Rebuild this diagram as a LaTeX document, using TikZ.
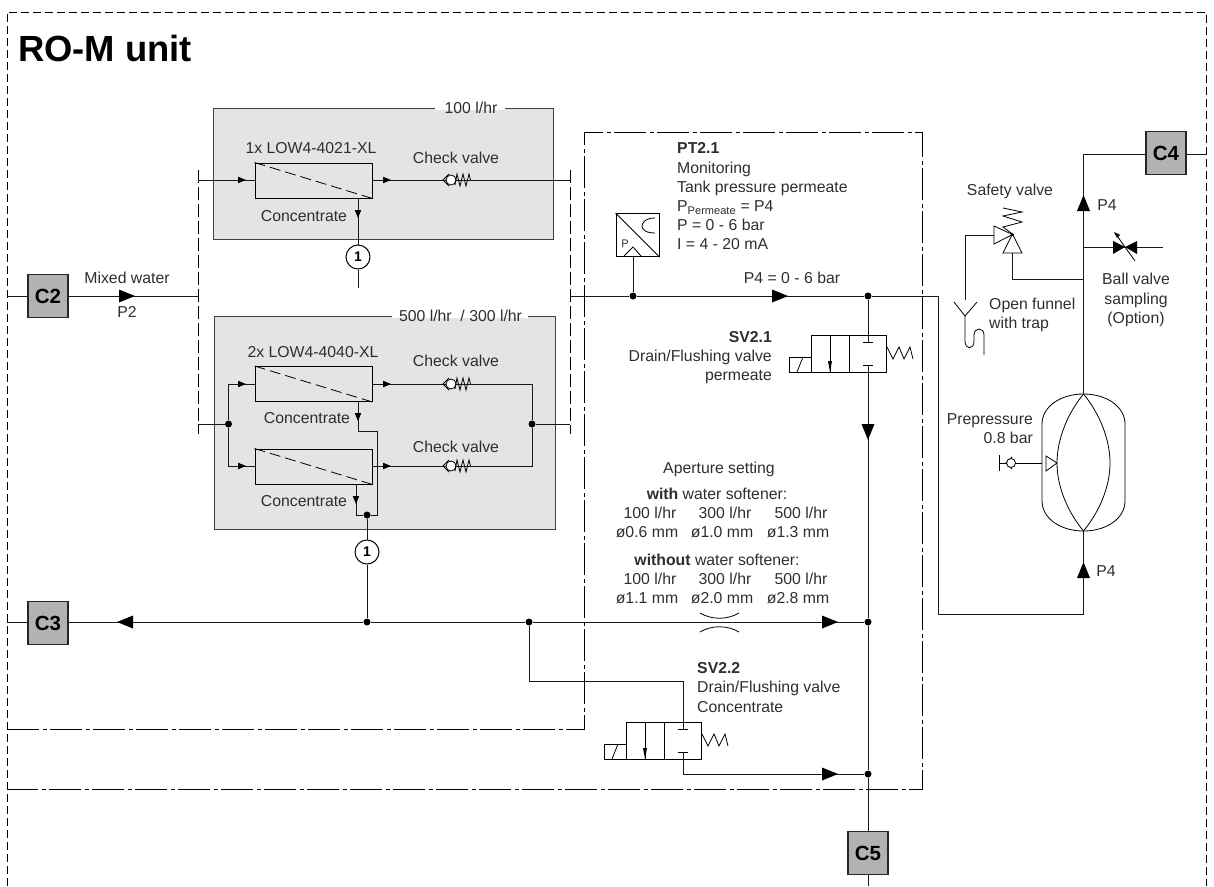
\documentclass[tikz,border=0pt]{standalone}
\usepackage{fontspec}
\setmainfont{Liberation Sans}
\usepackage{xcolor}
\usepackage{tikz}
\definecolor{boxgrey}{HTML}{E4E4E4}
\definecolor{portgrey}{HTML}{B2B2B2}
\definecolor{inkgrey}{HTML}{2E2E2E}
\tikzset{
  pipe/.style={line width=1pt,black!90},
  thinpipe/.style={line width=.8pt,black},
  unitline/.style={line width=1pt,black,dash pattern=on 8pt off 4pt},
  frameline/.style={line width=1pt,black,dash pattern=on 32pt off 3.5pt on 4pt off 3.5pt},
  cutline/.style={line width=.8pt,black,dash pattern=on 13pt off 4pt},
  moddash/.style={line width=.8pt,black,dash pattern=on 11pt off 5pt},
  txt/.style={font=\fontsize{15.8}{19.2}\selectfont,text=inkgrey,inner sep=0pt},
  titletxt/.style={font=\fontsize{36.4}{40}\selectfont\bfseries,text=black,inner sep=0pt},
  port/.style={draw=black!85,line width=1.5pt,fill=portgrey,minimum width=40pt,minimum height=43pt,inner sep=0pt,font=\fontsize{20.5}{22}\selectfont\bfseries},
  joint/.style={circle,fill=black,inner sep=0pt,minimum size=7pt},
  ref/.style={circle,draw=black,line width=1pt,fill=white,inner sep=0pt,minimum size=24pt,font=\fontsize{14}{14}\selectfont\bfseries},
  stagebox/.style={draw=black!75,line width=1pt,fill=boxgrey},
  gapline/.style={white,line width=3pt},
  module/.style={draw=black,line width=1pt,fill=boxgrey,minimum width=117pt,minimum height=35pt,inner sep=0pt},
  tipsmall/.pic={\fill[black] (-5,-3.3) -- (3,0) -- (-5,3.3) -- cycle;},
  tipbig/.pic={\fill[black] (-8,-6.5) -- (8,0) -- (-8,6.5) -- cycle;},
  checkvalve/.pic={
    \draw[thinpipe] (6,-6) -- (0,0) -- (6,6);
    \filldraw[thinpipe,fill=white] (8,0) circle (5);
    \draw[thinpipe] (12,5) -- (14,-6) -- (17,6) -- (20,-6) -- (23,6) -- (26,-6) -- (27.5,0);
  },
  solvalve/.pic={
    \draw[thinpipe] (0,0) rectangle (75,37);
    \draw[thinpipe] (38,0) -- (38,37);
    \draw[thinpipe] (-22,22) rectangle (0,37);
    \draw[thinpipe] (-14,37) -- (-8,22);
    \draw[thinpipe] (19,0) -- (19,37);
    \fill[black] (17,26) -- (21,26) -- (19,37) -- cycle;
    \draw[thinpipe] (52,7) -- (62,7);
    \draw[thinpipe] (52,30) -- (62,30);
    \draw[thinpipe] (76,12) -- (82,24) -- (88,12) -- (93,24) -- (99,12) -- (102,24);
    \coordinate (-in) at (57,7);
    \coordinate (-out) at (57,30);
  },
}
\begin{document}
\begin{tikzpicture}[x=1pt,y=-1pt]
   \useasboundingbox (0,0) rectangle (1214,886);
   \node[titletxt,anchor=west] (title) at (18,48) {RO-M unit};

   % outer frames
   \draw[unitline] (7,886) -- (7,12) -- (1206,12) -- (1206,886);
   \draw[frameline] (7,729) -- (584,729) -- (584,132) -- (922,132) -- (922,789) -- (7,789);

   % ports and stage boxes
   \node[port] (c2) at (48,296) {C2};
   \node[port] (c3) at (48,623) {C3};
   \node[port] (c4) at (1166,153) {C4};
   \node[port] (c5) at (868,853) {C5};
   \filldraw[stagebox] (213,108) rectangle (553,239);
   \filldraw[stagebox] (214,316) rectangle (555,529);
   \draw[gapline] (435,108) -- (505,108);
   \draw[gapline] (392,316) -- (528,316);
   \node[txt] (flowa) at (471,108) {100 l/hr};
   \node[txt] (flowb) at (460.5,316) {500 l/hr~ / 300 l/hr};

   % small stage, 100 l/hr
   \draw[cutline] (198,170) -- (198,434);
   \draw[cutline] (570,170) -- (570,434);
   \node[module] (moda) at (313.5,180.5) {};
   \draw[moddash] (moda.north west) -- (moda.south east);
   \coordinate (ina) at (198,180);
   \coordinate (outa) at (570,180);
   \draw[pipe] (ina) -- (moda.west |- ina);
   \draw[pipe] (moda.east |- outa) -- (outa);
   \pic at (243,180) {tipsmall};
   \pic at (388,180) {tipsmall};
   \pic at (443,180) {checkvalve};
   \node[txt] (namea) at (311,148) {1x LOW4-4021-XL};
   \node[txt] (checka) at (456,158) {Check valve};
   \node[txt] (conca) at (304,216) {Concentrate};
   \node[ref] (refa) at (358,257) {1};
   \coordinate (enda) at (358,288);
   \draw[pipe] (358,198) -- (refa) -- (enda);
   \pic[rotate=-90] at (358,215) {tipsmall};

   % large stage, 500 l/hr / 300 l/hr
   \node[module] (modb) at (313.5,384) {};
   \node[module] (modc) at (313.5,466.5) {};
   \draw[moddash] (modb.north west) -- (modb.south east);
   \draw[moddash] (modc.north west) -- (modc.south east);
   \node[joint] (jin) at (228.5,424) {};
   \node[joint] (jout) at (532,424) {};
   \coordinate (inb) at (198,424);
   \coordinate (outb) at (570,424);
   \draw[pipe] (inb) -- (jin);
   \draw[pipe] (jout) -- (outb);
   \draw[pipe] (modb.west) -| (jin);
   \draw[pipe] (modc.west) -| (jin);
   \draw[pipe] (modb.east) -| (jout);
   \draw[pipe] (modc.east) -| (jout);
   \foreach \y in {384,466} {
     \pic at (243,\y) {tipsmall};
     \pic at (388,\y) {tipsmall};
     \pic at (443,\y) {checkvalve};
   }
   \node[txt] (nameb) at (313,352) {2x LOW4-4040-XL};
   \node[txt] (checkb) at (456,361) {Check valve};
   \node[txt] (checkc) at (456,447) {Check valve};
   \node[txt] (concb) at (307,418) {Concentrate};
   \node[txt] (concc) at (304,501) {Concentrate};
   \node[joint] (jconc) at (367,515) {};
   \node[joint] (jdrain) at (367,622) {};
   \node[ref] (refb) at (367,552) {1};
   \draw[pipe] (358,402) -- (358,431) -- (377,431) -- (377,515) -- (jconc);
   \draw[pipe] (356,484) -- (356,515) -- (jconc);
   \draw[pipe] (jconc) -- (refb) -- (jdrain);
   \pic[rotate=-90] at (358,418) {tipsmall};
   \pic[rotate=-90] at (356,501) {tipsmall};

   % mixed water inlet
   \coordinate (edgeb) at (7,296);
   \coordinate (edgec) at (7,622);
   \draw[pipe] (edgeb) -- (c2);
   \draw[pipe] (c2) -- (198,296);
   \pic at (127,296) {tipbig};
   \node[txt] (mixed) at (127,278) {Mixed water};
   \node[txt] (ptwo) at (127,312) {P2};

   % permeate line
   \node[joint] (jpt) at (633,296) {};
   \node[joint] (jperm) at (868,296) {};
   \coordinate (outperm) at (570,296);
   \coordinate (bendup) at (938,296);
   \coordinate (bendlow) at (938,614);
   \coordinate (tanklow) at (1083.5,614);
   \coordinate (tankbot) at (1083.5,531);
   \coordinate (tanktop) at (1083.5,394);
   \coordinate (tankcorner) at (1083.5,154);
   \coordinate (edgee) at (1206,154);
   \draw[pipe] (outperm) -- (jpt) -- (jperm) -- (bendup) -- (bendlow) -- (tanklow) -- (tankbot);
   \pic at (780,296) {tipbig};
   \node[txt] (pfour) at (792,278) {P4 = 0 - 6 bar};

   % pressure transmitter
   \node[draw=black,line width=1pt,minimum size=43pt,inner sep=0pt] (pt) at (637.5,235) {};
   \draw[thinpipe] (pt.north west) -- (pt.south east);
   \draw[thinpipe] (655,218) .. controls (644,218) and (642,224) .. (642,226) .. controls (642,229) and (645,233) .. (655,233);
   \draw[thinpipe] (624,256) -- (633,247) -- (641,256);
   \node[font=\fontsize{11}{11}\selectfont,text=inkgrey,inner sep=0pt] (ptp) at (625,244) {P};
   \draw[pipe] (pt.south -| jpt) -- (jpt);
   \node[txt,anchor=west,align=left] (pttxt) at (677,196.5) {\textbf{PT2.1}\\Monitoring\\Tank pressure permeate\\P\textsubscript{Permeate} = P4\\P = 0 - 6 bar\\I = 4 - 20 mA};

   % drain valves
   \pic (sva) at (811,335) {solvalve};
   \pic (svb) at (626,722) {solvalve};
   \node[txt,anchor=east,align=right] (svatxt) at (772,357.5) {\textbf{SV2.1}\\Drain/Flushing valve\\permeate};
   \node[txt,anchor=west,align=left] (svbtxt) at (697,687.5) {\textbf{SV2.2}\\Drain/Flushing valve\\Concentrate};
   \node[joint] (jconcb) at (868,622) {};
   \node[joint] (jflush) at (868,774) {};
   \node[joint] (jbranch) at (529,622) {};
   \coordinate (edgef) at (868,886);
   \draw[pipe] (jperm) -- (sva-in);
   \draw[pipe] (sva-out) -- (jconcb) -- (jflush) -- (c5) -- (edgef);
   \pic[rotate=-90] at (868,432) {tipbig};

   % concentrate line
   \draw[pipe] (edgec) -- (c3.west |- edgec);
   \draw[pipe] (c3.east |- edgec) -- (jdrain) -- (jbranch) -- (jconcb);
   \pic[rotate=180] at (125,622) {tipbig};
   \pic at (830,622) {tipbig};
   \draw[pipe] (jbranch) |- (svb-in |- 0,681) -- (svb-in);
   \draw[pipe] (svb-out) |- (jflush);
   \pic at (830,774) {tipbig};
   \draw[thinpipe] (700,613) .. controls (712,620) and (727,620) .. (739,613);
   \draw[thinpipe] (700,632) .. controls (712,625) and (727,625) .. (739,632);

   % aperture settings
   \node[txt] (aper) at (719,469) {Aperture setting};
   \node[txt] (with) at (717,494) {\textbf{with} water softener:};
   \node[txt] (without) at (717,560) {\textbf{without} water softener:};
   \foreach \xa/\xb/\flow/\dwith/\dwout in {650/647/100/0.6/1.1,725/722/300/1.0/2.0,801/798/500/1.3/2.8} {
     \node[txt] (fw\flow) at (\xa,513) {\flow{} l/hr};
     \node[txt] (dw\flow) at (\xb,532) {ø\dwith{} mm};
     \node[txt] (fo\flow) at (\xa,579) {\flow{} l/hr};
     \node[txt] (do\flow) at (\xb,598) {ø\dwout{} mm};
   }

   % tank side
   \draw[pipe] (tanktop) -- (tankcorner) -- (c4.west |- tankcorner);
   \draw[pipe] (c4.east |- edgee) -- (edgee);
   \pic[rotate=90] at (1083.5,203) {tipbig};
   \pic[rotate=90] at (1083.5,570) {tipbig};
   \node[txt] (pfoura) at (1107,205) {P4};
   \node[txt] (pfourb) at (1106,571) {P4};
   \draw[thinpipe] (1042,424) .. controls (1042,407) and (1060,394) .. (tanktop) .. controls (1107,394) and (1125,407) .. (1125,424) -- (1125,501) .. controls (1125,518) and (1107,531) .. (tankbot) .. controls (1060,531) and (1042,518) .. (1042,501) -- cycle;
   \draw[thinpipe] (tanktop) .. controls (1067,414) and (1057,440) .. (1057,463) .. controls (1057,486) and (1067,511) .. (tankbot);
   \draw[thinpipe] (tanktop) .. controls (1100,414) and (1110,440) .. (1110,463) .. controls (1110,486) and (1100,511) .. (tankbot);
   \draw[thinpipe] (1046,456) -- (1057,463) -- (1046,471) -- cycle;

   % prepressure connection
   \node[txt,anchor=east,align=right] (prep) at (1033,428.5) {Prepressure\\0.8 bar};
   \coordinate (prestub) at (999,463);
   \draw[thinpipe] (999,455) -- (999,471);
   \draw[thinpipe] (prestub) -- (1042,463);
   \draw[thinpipe] (1012,457) -- (1006,463) -- (1012,469);
   \filldraw[thinpipe,fill=white] (1011,463) circle (4.5);

   % ball valve
   \coordinate (balltee) at (1083.5,247);
   \coordinate (ballend) at (1163,247);
   \draw[pipe] (balltee) -- (ballend);
   \fill[black] (1113,241) -- (1125,247) -- (1113,254) -- cycle;
   \fill[black] (1137,241) -- (1125,247) -- (1137,254) -- cycle;
   \draw[thinpipe] (1135,261) -- (1115,233);
   \fill[black] (1114,232) -- (1120,235) -- (1117,238) -- cycle;
   \node[txt,align=center] (balltxt) at (1136,300) {Ball valve\\sampling\\(Option)};

   % safety valve and funnel
   \node[txt] (safety) at (1010,191) {Safety valve};
   \coordinate (safetee) at (1083.5,279);
   \coordinate (safein) at (1012.5,253);
   \coordinate (safeout) at (994,235);
   \draw[pipe] (safetee) -| (safein);
   \draw[thinpipe] (1003,253) -- (1022,253) -- (1012.5,234) -- cycle;
   \draw[thinpipe] (994,226) -- (994,244) -- (1012.5,234.5) -- cycle;
   \fill[black] (1012.5,234.5) circle (1.5);
   \draw[thinpipe] (1012.5,234) -- (1003,227) -- (1022,222) -- (1003,216) -- (1022,212) -- (1003,208);
   \coordinate (funnel) at (965,316);
   \draw[pipe] (safeout) -| (965,300);
   \draw[thinpipe] (954,302) -- (funnel) -- (977,302);
   \draw[thinpipe] (funnel) -- (965,341) .. controls (965,350) and (974,350) .. (974,341) -- (974,335) .. controls (974,327) and (984,327) .. (984,335) -- (984,355);
   \node[txt,anchor=west,align=left] (funneltxt) at (989,315) {Open funnel\\with trap};
\end{tikzpicture}
\end{document}
